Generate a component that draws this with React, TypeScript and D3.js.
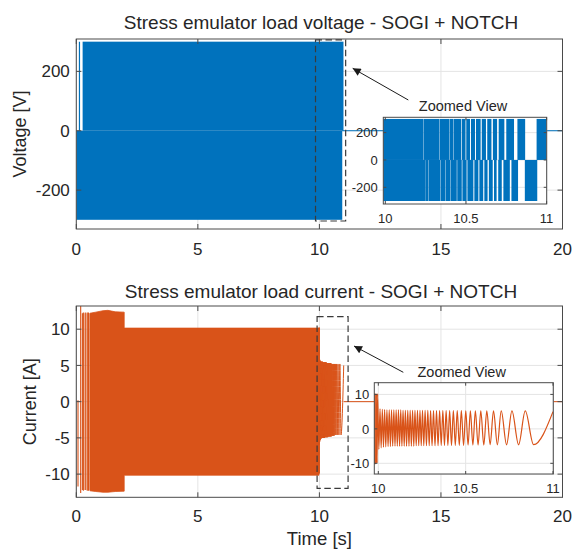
import React from "react";
import * as d3 from "d3";

const FONT = "'Liberation Sans', Arial, Helvetica, sans-serif";
const INK = "#262626";
const AXIS = "#4a4a4a";
const GRID = "#e4e4e4";
const BLUE = "#0072BD";
const ORANGE = "#D95319";

// ---- tick values ----
const timeTicks = [0, 5, 10, 15, 20];
const voltTicks = [-200, 0, 200];
const currTicks = [-10, -5, 0, 5, 10];
const zoomTimeTicks = [10, 10.5, 11];
const zoomVoltTicks = [-200, 0, 200];
const zoomCurrTicks = [-10, 0, 10];

// ---- load voltage [V] ----
// dense switching regions, drawn as filled bands
const voltBandT0 = [0, 0.26];
const voltBandT1 = [10.94, 10.99];
const voltBandLow = [-300, 0];
const voltBandHigh = [0, 300];
// isolated early pulse
const voltPulseT = [0.13];
const voltPulseHigh = [300];
// idle after the test
const voltIdleT = [10.94, 20];
const voltIdleV = [0, 0];
// zoomed window: +300 V / -300 V pulse trains and the gaps between them
const zoomVoltLevel = 300;
const zoomVoltHighSpan = [9.98, 11.0];
const zoomVoltLowSpan = [9.98, 10.942];
const zoomVoltHighGaps: [number, number][] = [
  [10.236, 10.2375], [10.334, 10.336], [10.398, 10.4], [10.423, 10.4255],
  [10.471, 10.475], [10.497, 10.502], [10.525, 10.531], [10.556, 10.562],
  [10.591, 10.598], [10.624, 10.632], [10.658, 10.667], [10.693, 10.703],
  [10.738, 10.75], [10.798, 10.819], [10.867, 10.938],
];
const zoomVoltLowGaps: [number, number][] = [
  [10.246, 10.2475], [10.267, 10.2685], [10.34, 10.342], [10.371, 10.373],
  [10.402, 10.404], [10.443, 10.446], [10.474, 10.478], [10.504, 10.509],
  [10.546, 10.552], [10.577, 10.583], [10.607, 10.614], [10.634, 10.642],
  [10.666, 10.674], [10.69, 10.7], [10.722, 10.732], [10.772, 10.782],
  [10.823, 10.865],
];

// ---- load current [A] ----
// early isolated strokes: time, min, max
const currStrokeT = [0.07, 0.18, 0.25, 0.29, 0.37, 0.45, 0.5];
const currStrokeLo = [-11.7, -12.6, -12.2, -12.3, -12.2, -12.3, -12.3];
const currStrokeHi = [0.2, 13.5, 12.2, 12.3, 12.3, 12.3, 12.3];
// faint sparse region before steady oscillation
const currFaintT = [0.27, 0.56];
const currFaintLo = [-12.2, -12.2];
const currFaintHi = [12.2, 12.2];
// envelope of the dense 50 Hz oscillation
const currEnvT = [0.56, 0.8, 1.1, 1.3, 1.6, 1.97, 1.97, 9.984];
const currEnvHi = [12.2, 12.35, 12.55, 12.6, 12.4, 12.35, 10.15, 10.15];
const currEnvLo = [-12.3, -12.4, -12.5, -12.5, -12.4, -12.35, -10.15, -10.15];
// frequency sweep after the load step: successive extrema [t, i]
const currSweep: [number, number][] = [
  [9.987, -9.9], [9.99, 10.2], [9.993, -9.9], [9.996, 10.2], [10.003, -5.9],
  [10.0097, 5.8], [10.0163, -5.5], [10.0229, 5.7], [10.0295, -5.3],
  [10.0361, 5.6], [10.0427, -5.2], [10.0493, 5.5], [10.0559, -5.1],
  [10.0625, 5.5], [10.0691, -5.1], [10.0757, 5.5], [10.0823, -5.0],
  [10.0889, 5.5], [10.0955, -5.0], [10.1021, 5.5], [10.1087, -5.0],
  [10.1153, 5.5], [10.1218, -5.0], [10.1284, 5.5], [10.135, -5.0],
  [10.1416, 5.4], [10.1482, -5.0], [10.1548, 5.4], [10.1617, -5.0],
  [10.1686, 5.4], [10.1755, -5.0], [10.1823, 5.4], [10.1892, -5.0],
  [10.1961, 5.4], [10.203, -5.0], [10.2099, 5.4], [10.217, -4.9],
  [10.2242, 5.4], [10.2314, -4.9], [10.2385, 5.4], [10.2457, -4.9],
  [10.2529, 5.4], [10.2603, -4.9], [10.2678, 5.4], [10.2755, -4.9],
  [10.2833, 5.4], [10.2913, -4.9], [10.2993, 5.3], [10.3076, -4.9],
  [10.3159, 5.3], [10.3245, -4.9], [10.3331, 5.3], [10.342, -4.9],
  [10.3509, 5.3], [10.3601, -4.8], [10.3693, 5.3], [10.3787, -4.8],
  [10.3882, 5.3], [10.3982, -4.8], [10.4083, 5.3], [10.4189, -4.8],
  [10.4295, 5.3], [10.4407, -4.8], [10.4518, 5.3], [10.4636, -4.8],
  [10.4753, 5.3], [10.488, -4.8], [10.5006, 5.2], [10.5138, -4.7],
  [10.527, 5.2], [10.5413, -4.7], [10.5556, 5.2], [10.5711, -4.7],
  [10.5866, 5.2], [10.6038, -4.7], [10.621, 5.2], [10.6402, -4.6],
  [10.6594, 5.2], [10.6815, -4.6], [10.7036, 5.2], [10.7342, -4.6],
  [10.7649, 5.2], [10.803, -4.6], [10.8412, 5.2], [10.8888, -4.6],
  [11.0, 5.0],
];
// idle after the test
const currIdleT = [11.0, 20];
const currIdleV = [0, 0];

type Lin = d3.ScaleLinear<number, number>;

function Grid({ x, y, xTicks, yTicks }: { x: Lin; y: Lin; xTicks: number[]; yTicks: number[] }) {
  const [x0, x1] = x.range();
  const [y1, y0] = y.range();
  return (
    <g>
      <rect x={x0} y={y0} width={x1 - x0} height={y1 - y0} fill="#fff" />
      {xTicks.map((t) => (
        <line key={"gx" + t} x1={x(t)} x2={x(t)} y1={y0} y2={y1} stroke={GRID} strokeWidth={1} />
      ))}
      {yTicks.map((t) => (
        <line key={"gy" + t} x1={x0} x2={x1} y1={y(t)} y2={y(t)} stroke={GRID} strokeWidth={1} />
      ))}
    </g>
  );
}

function Box({
  x, y, xTicks, yTicks, tickLen, fontSize, xLabelGap, yLabelGap,
}: {
  x: Lin; y: Lin; xTicks: number[]; yTicks: number[]; tickLen: number;
  fontSize: number; xLabelGap: number; yLabelGap: number;
}) {
  const [x0, x1] = x.range();
  const [y1, y0] = y.range();
  return (
    <g fontFamily={FONT} fill={INK}>
      {xTicks.map((t) => (
        <g key={"tx" + t}>
          <line x1={x(t)} x2={x(t)} y1={y1} y2={y1 - tickLen} stroke={AXIS} />
          <line x1={x(t)} x2={x(t)} y1={y0} y2={y0 + tickLen} stroke={AXIS} />
          <text x={x(t)} y={y1 + xLabelGap} textAnchor="middle" fontSize={fontSize}>{String(t)}</text>
        </g>
      ))}
      {yTicks.map((t) => (
        <g key={"ty" + t}>
          <line x1={x0} x2={x0 + tickLen} y1={y(t)} y2={y(t)} stroke={AXIS} />
          <line x1={x1} x2={x1 - tickLen} y1={y(t)} y2={y(t)} stroke={AXIS} />
          <text x={x0 - yLabelGap} y={y(t)} dy="0.36em" textAnchor="end" fontSize={fontSize}>{String(t)}</text>
        </g>
      ))}
      <rect x={x0} y={y0} width={x1 - x0} height={y1 - y0} fill="none" stroke={AXIS} strokeWidth={1} />
    </g>
  );
}

function complement(span: number[], gaps: [number, number][]): [number, number][] {
  const out: [number, number][] = [];
  let cur = span[0];
  gaps.forEach(([a, b]) => {
    if (a > cur) out.push([cur, a]);
    cur = Math.max(cur, b);
  });
  if (span[1] > cur) out.push([cur, span[1]]);
  return out;
}

export default function App() {
  // main axes
  const xTop = d3.scaleLinear().domain([0, 20]).range([76.3, 562.5]);
  const yVolt = d3.scaleLinear().domain([-331, 309]).range([229, 39]);
  const xBot = d3.scaleLinear().domain([0, 20]).range([76.3, 562.5]);
  const yCurr = d3.scaleLinear().domain([-13.2, 13.2]).range([497.3, 306]);
  // inset axes
  const xZV = d3.scaleLinear().domain([9.9875, 11.0006]).range([383.3, 546.7]);
  const yZV = d3.scaleLinear().domain([-322, 312]).range([204, 117.3]);
  const xZI = d3.scaleLinear().domain([9.977, 11.0017]).range([374.3, 553.3]);
  const yZI = d3.scaleLinear().domain([-13.1, 13.4]).range([474, 382.7]);

  const clipRect = (id: string, x: Lin, y: Lin) => {
    const [x0, x1] = x.range();
    const [y1, y0] = y.range();
    return (
      <clipPath id={id}>
        <rect x={x0} y={y0} width={x1 - x0} height={y1 - y0} />
      </clipPath>
    );
  };

  const envArea = (x: Lin, y: Lin) =>
    d3.area<number>()
      .x((i) => x(currEnvT[i]))
      .y0((i) => y(currEnvLo[i]))
      .y1((i) => y(currEnvHi[i]))(currEnvT.map((_, i) => i)) || "";

  const faintArea = (x: Lin, y: Lin) =>
    d3.area<number>()
      .x((i) => x(currFaintT[i]))
      .y0((i) => y(currFaintLo[i]))
      .y1((i) => y(currFaintHi[i]))(currFaintT.map((_, i) => i)) || "";

  const sweepLine = (x: Lin, y: Lin) =>
    d3.line<[number, number]>()
      .x((d) => x(d[0]))
      .y((d) => y(d[1]))
      .curve(d3.curveMonotoneX)(currSweep) || "";

  const simpleLine = (x: Lin, y: Lin, ts: number[], vs: number[]) =>
    d3.line<number>().x((i) => x(ts[i])).y((i) => y(vs[i]))(ts.map((_, i) => i)) || "";

  const zoomHigh = complement(zoomVoltHighSpan, zoomVoltHighGaps);
  const zoomLow = complement(zoomVoltLowSpan, zoomVoltLowGaps);

  const title = (txt: string, y: number) => (
    <text x={321} y={y} textAnchor="middle" fontFamily={FONT} fontSize={19} fill={INK}>{txt}</text>
  );

  return (
    <svg width={572} height={549} style={{ position: "absolute", left: 0, top: 0, background: "#fff" }}>
      <defs>
        {clipRect("cTop", xTop, yVolt)}
        {clipRect("cBot", xBot, yCurr)}
        {clipRect("cZV", xZV, yZV)}
        {clipRect("cZI", xZI, yZI)}
        <marker id="arrowHead" viewBox="0 0 10 10" refX="10" refY="5" markerWidth="11" markerHeight="8"
          orient="auto" markerUnits="userSpaceOnUse">
          <path d="M0,0 L10,5 L0,10 z" fill="#1a1a1a" />
        </marker>
      </defs>
      <rect width={572} height={549} fill="#fff" />

      {/* ===== voltage ===== */}
      <Grid x={xTop} y={yVolt} xTicks={timeTicks} yTicks={voltTicks} />
      <g clipPath="url(#cTop)">
        {voltBandT0.map((t0, i) => (
          <rect key={"vb" + i} x={xTop(t0)} width={xTop(voltBandT1[i]) - xTop(t0)}
            y={yVolt(voltBandHigh[i])} height={yVolt(voltBandLow[i]) - yVolt(voltBandHigh[i])} fill={BLUE} />
        ))}
        {voltPulseT.map((t, i) => (
          <line key={"vp" + i} x1={xTop(t)} x2={xTop(t)} y1={yVolt(0)} y2={yVolt(voltPulseHigh[i])}
            stroke={BLUE} strokeWidth={1.2} />
        ))}
        <path d={simpleLine(xTop, yVolt, voltIdleT, voltIdleV)} fill="none" stroke={BLUE} strokeWidth={1} />
      </g>
      <Box x={xTop} y={yVolt} xTicks={timeTicks} yTicks={voltTicks} tickLen={5} fontSize={17}
        xLabelGap={26} yLabelGap={6.5} />
      {title("Stress emulator load voltage - SOGI + NOTCH", 29)}
      <text transform="translate(26,134) rotate(-90)" textAnchor="middle" fontFamily={FONT} fontSize={18} fill={INK}>
        Voltage [V]
      </text>

      {/* ===== current ===== */}
      <Grid x={xBot} y={yCurr} xTicks={timeTicks} yTicks={currTicks} />
      <g clipPath="url(#cBot)">
        <path d={faintArea(xBot, yCurr)} fill={ORANGE} fillOpacity={0.3} />
        {currStrokeT.map((t, i) => (
          <line key={"cs" + i} x1={xBot(t)} x2={xBot(t)} y1={yCurr(currStrokeLo[i])} y2={yCurr(currStrokeHi[i])}
            stroke={ORANGE} strokeWidth={1.1} />
        ))}
        <path d={envArea(xBot, yCurr)} fill={ORANGE} stroke={ORANGE} strokeWidth={0.8} />
        <path d={sweepLine(xBot, yCurr)} fill="none" stroke={ORANGE} strokeWidth={1} />
        <path d={simpleLine(xBot, yCurr, currIdleT, currIdleV)} fill="none" stroke={ORANGE} strokeWidth={1} />
      </g>
      <Box x={xBot} y={yCurr} xTicks={timeTicks} yTicks={currTicks} tickLen={5} fontSize={17}
        xLabelGap={25} yLabelGap={6.5} />
      {title("Stress emulator load current - SOGI + NOTCH", 297.5)}
      <text transform="translate(36,401.7) rotate(-90)" textAnchor="middle" fontFamily={FONT} fontSize={18} fill={INK}>
        Current [A]
      </text>
      <text x={319.4} y={544.5} textAnchor="middle" fontFamily={FONT} fontSize={18.5} fill={INK}>Time [s]</text>

      {/* ===== zoom markers ===== */}
      <rect x={xTop(9.84)} y={yVolt(306)} width={xTop(11.08) - xTop(9.84)} height={yVolt(-304) - yVolt(306)}
        fill="none" stroke="#3a3a3a" strokeWidth={1.2} strokeDasharray="6.5 3.5" />
      <rect x={xBot(9.905)} y={yCurr(11.74)} width={xBot(11.18) - xBot(9.905)} height={yCurr(-11.96) - yCurr(11.74)}
        fill="none" stroke="#3a3a3a" strokeWidth={1.2} strokeDasharray="6.5 3.5" />
      <line x1={408.3} y1={100} x2={352.7} y2={68.3} stroke="#1a1a1a" strokeWidth={1} markerEnd="url(#arrowHead)" />
      <line x1={403.3} y1={372.3} x2={354} y2={346} stroke="#1a1a1a" strokeWidth={1} markerEnd="url(#arrowHead)" />
      <text x={463} y={111} textAnchor="middle" fontFamily={FONT} fontSize={14.5} fill={INK}>Zoomed View</text>
      <text x={461.7} y={376.7} textAnchor="middle" fontFamily={FONT} fontSize={14.5} fill={INK}>Zoomed View</text>

      {/* ===== voltage inset ===== */}
      <Grid x={xZV} y={yZV} xTicks={zoomTimeTicks} yTicks={zoomVoltTicks} />
      <g clipPath="url(#cZV)">
        {zoomHigh.map(([a, b], i) => (
          <rect key={"zh" + i} x={xZV(a)} width={xZV(b) - xZV(a)} y={yZV(zoomVoltLevel)}
            height={yZV(0) - yZV(zoomVoltLevel)} fill={BLUE} />
        ))}
        {zoomLow.map(([a, b], i) => (
          <rect key={"zl" + i} x={xZV(a)} width={xZV(b) - xZV(a)} y={yZV(0)}
            height={yZV(-zoomVoltLevel) - yZV(0)} fill={BLUE} />
        ))}
      </g>
      <Box x={xZV} y={yZV} xTicks={zoomTimeTicks} yTicks={zoomVoltTicks} tickLen={3} fontSize={13}
        xLabelGap={18.7} yLabelGap={5.5} />

      {/* ===== current inset ===== */}
      <Grid x={xZI} y={yZI} xTicks={zoomTimeTicks} yTicks={zoomCurrTicks} />
      <g clipPath="url(#cZI)">
        <path d={envArea(xZI, yZI)} fill={ORANGE} stroke={ORANGE} strokeWidth={0.8} />
        <path d={sweepLine(xZI, yZI)} fill="none" stroke={ORANGE} strokeWidth={1.2} />
      </g>
      <Box x={xZI} y={yZI} xTicks={zoomTimeTicks} yTicks={zoomCurrTicks} tickLen={3} fontSize={13}
        xLabelGap={18.7} yLabelGap={5} />
    </svg>
  );
}
